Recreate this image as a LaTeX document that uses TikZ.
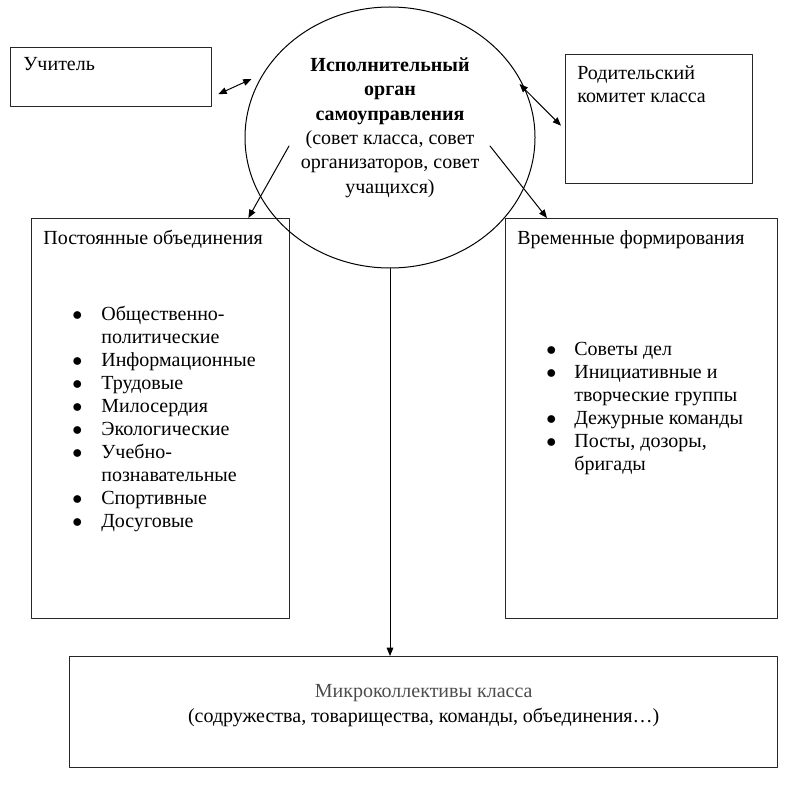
\documentclass[tikz,border=0pt]{standalone}
\usepackage{fontspec}
\setmainfont{Liberation Serif}
\usetikzlibrary{shapes.geometric,arrows.meta}
\tikzset{
  box/.style={draw=black!85, line width=0.8pt, rectangle, inner sep=0pt, anchor=north west},
  boxtext/.style={anchor=north west, inner sep=0pt, align=left},
  listtext/.style={anchor=north west, inner sep=0pt, font=\fontsize{12}{13.8}\selectfont}
}
\newcommand{\bul}{$\bullet$}
\begin{document}
\begin{tikzpicture}[x=0.6pt,y=-0.6pt,>={Triangle[length=5pt,width=4pt]}, font=\fontsize{12}{14}\selectfont, line join=round, line cap=round]
	%	\draw[color=gray!50,dashed] (0,0) grid[step=50] (800,786);
	\useasboundingbox (0,0) rectangle (800,786);
	\node[box, minimum width=120.6pt, minimum height=35.4pt] (teacher) at (10,47) {};
	\node[box, minimum width=112.2pt, minimum height=77.4pt] (parent) at (565,54) {};
	\node[box, minimum width=154.8pt, minimum height=240pt] (perm) at (31,218) {};
	\node[box, minimum width=163.2pt, minimum height=240pt] (temp) at (505,218) {};
	\node[box, minimum width=424.8pt, minimum height=66.6pt] (micro) at (69,656) {};
	\node[draw, ellipse, line width=0.6pt, minimum width=174pt, minimum height=156.6pt, inner sep=0pt] (org) at (390,137.5) {};
	% texts
	\node[boxtext] (teachertext) at ([shift={(13,10)}]teacher.north west) {Учитель};
	\node[boxtext] (parenttext) at ([shift={(12,11)}]parent.north west) {Родительский\\комитет класса};
	\node[boxtext] (permtext) at ([shift={(12,12)}]perm.north west) {Постоянные объединения};
	\node[boxtext] (temptext) at ([shift={(12,12)}]temp.north west) {Временные формирования};
	\node[anchor=north, inner sep=0pt, align=center, font=\fontsize{12}{14.6}\selectfont] (orgtext) at ([shift={(0,-80)}]org.center)
		{\textbf{Исполнительный}\\\textbf{орган}\\\textbf{самоуправления}\\(совет класса, совет\\организаторов, совет\\учащихся)};
	\node[anchor=north, inner sep=0pt, align=center, font=\fontsize{12}{15}\selectfont] (microtext) at ([shift={(0,28)}]micro.north)
		{\textcolor{black!70}{Микроколлективы класса}\\(содружества, товарищества, команды, объединения…)};
	% lists
	\node[listtext] (permlist) at (72,304) {\begin{tabular}{@{}p{17.4pt}@{}l@{}}
		\bul & Общественно-\\ & политические\\
		\bul & Информационные\\
		\bul & Трудовые\\
		\bul & Милосердия\\
		\bul & Экологические\\
		\bul & Учебно-\\ & познавательные\\
		\bul & Спортивные\\
		\bul & Досуговые
	\end{tabular}};
	\node[listtext] (templist) at (546,339) {\begin{tabular}{@{}p{16.8pt}@{}l@{}}
		\bul & Советы дел\\
		\bul & Инициативные и\\ & творческие группы\\
		\bul & Дежурные команды\\
		\bul & Посты, дозоры,\\ & бригады
	\end{tabular}};
	% connectors
	\coordinate (tchA) at ([shift={(6,17)}]teacher.east);
	\coordinate (tchB) at ([shift={(7,-58.5)}]org.west);
	\coordinate (parA) at ([shift={(-16,-53.5)}]org.east);
	\coordinate (parB) at ([shift={(-4,6.5)}]parent.west);
	\draw[<->, line width=0.6pt] (tchA)--(tchB);
	\draw[<->, line width=0.6pt] (parA)--(parB);
	\draw[->, line width=0.6pt] ([shift={(-101,8.5)}]org.center)--([shift={(-42,0)}]perm.north east);
	\draw[->, line width=0.6pt] ([shift={(100,8.5)}]org.center)--([shift={(42,0)}]temp.north west);
	\draw[->, line width=0.6pt] (org.south)--(org.south |- micro.north);
\end{tikzpicture}
\end{document}
